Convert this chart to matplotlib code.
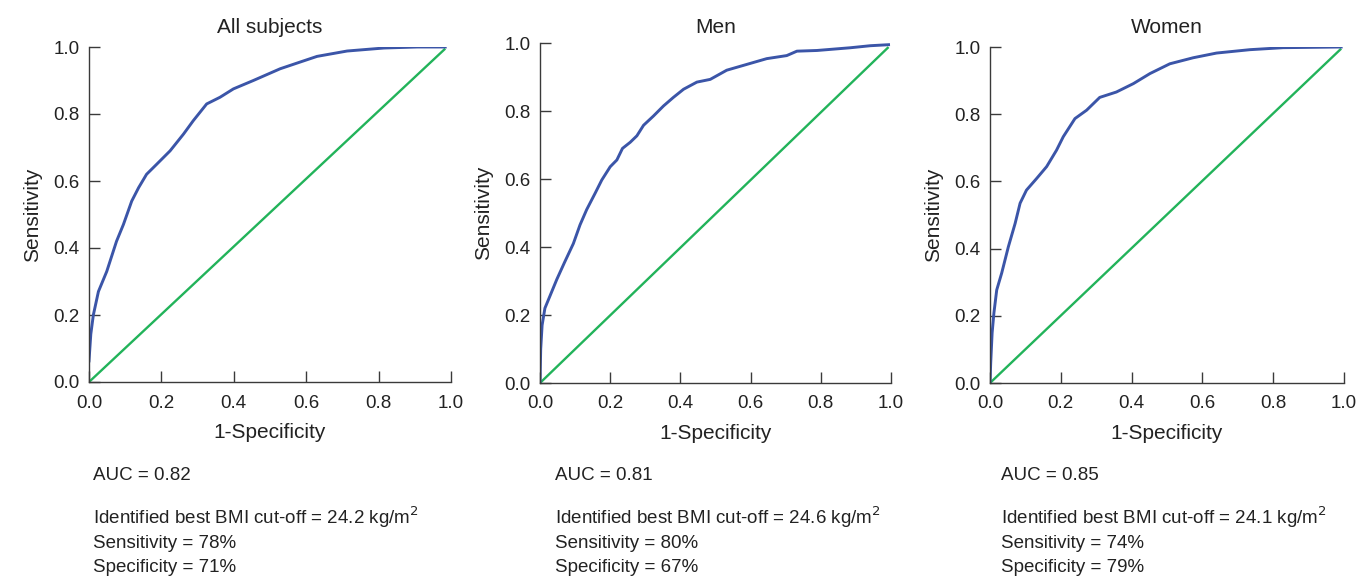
import matplotlib
matplotlib.use("Agg")
import matplotlib.pyplot as plt

plt.rcParams["font.family"] = ["Liberation Sans Narrow", "Liberation Sans", "DejaVu Sans"]

# ROC curves
all_fpr = [0.0, 0.005, 0.012, 0.026, 0.049, 0.076, 0.095, 0.118, 0.137, 0.159, 0.187,
           0.224, 0.261, 0.288, 0.325, 0.362, 0.399, 0.454, 0.528, 0.583, 0.63, 0.713,
           0.815, 0.907, 0.984]
all_tpr = [0.063, 0.143, 0.20, 0.27, 0.33, 0.42, 0.47, 0.54, 0.58, 0.62, 0.65,
           0.69, 0.74, 0.78, 0.83, 0.85, 0.875, 0.90, 0.935, 0.955, 0.972, 0.988,
           0.997, 1.0, 1.0]

men_fpr = [0.0, 0.002, 0.006, 0.014, 0.03, 0.048, 0.07, 0.095, 0.114, 0.133, 0.157,
           0.176, 0.2, 0.219, 0.235, 0.257, 0.276, 0.295, 0.323, 0.352, 0.38, 0.409,
           0.447, 0.485, 0.532, 0.599, 0.646, 0.703, 0.732, 0.789, 0.884, 0.941, 0.993]
men_tpr = [0.0, 0.1, 0.17, 0.22, 0.26, 0.305, 0.355, 0.41, 0.465, 0.51, 0.558,
           0.597, 0.636, 0.656, 0.69, 0.708, 0.727, 0.758, 0.785, 0.815, 0.84, 0.864,
           0.885, 0.893, 0.92, 0.94, 0.954, 0.963, 0.976, 0.978, 0.986, 0.992, 0.995]

women_fpr = [0.0, 0.002, 0.006, 0.011, 0.019, 0.033, 0.052, 0.071, 0.085, 0.103, 0.132,
             0.16, 0.188, 0.207, 0.24, 0.273, 0.31, 0.357, 0.405, 0.452, 0.508, 0.574,
             0.64, 0.734, 0.828, 0.992]
women_tpr = [0.0, 0.06, 0.149, 0.208, 0.277, 0.327, 0.406, 0.475, 0.535, 0.574, 0.609,
             0.644, 0.693, 0.733, 0.787, 0.812, 0.85, 0.866, 0.891, 0.921, 0.95, 0.968,
             0.982, 0.992, 0.998, 1.0]

# reference diagonal end points
all_diag = ([0.0, 0.984], [0.0, 0.995])
men_diag = ([0.0, 0.993], [0.0, 0.988])
women_diag = ([0.0, 0.992], [0.0, 0.995])

titles = ["All subjects", "Men", "Women"]
auc = [0.82, 0.81, 0.85]
cutoff = [24.2, 24.6, 24.1]
sens = [78, 80, 74]
spec = [71, 67, 79]

BLUE = "#3b55a8"
GREEN = "#22b35a"
AXIS = "#3a3a3a"
TEXT = "#222222"

fig = plt.figure(figsize=(13.57, 5.77), dpi=100)

# axes boxes in figure fractions (left, bottom, width, height)
boxes = [
    (89 / 1357, 195 / 577, 362 / 1357, 335 / 577),
    (540 / 1357, 194 / 577, 351 / 1357, 340 / 577),
    (990 / 1357, 194 / 577, 354 / 1357, 336 / 577),
]
curves = [(all_fpr, all_tpr, all_diag), (men_fpr, men_tpr, men_diag),
          (women_fpr, women_tpr, women_diag)]
title_pad = [10, 7, 10]
text_x = [93, 555, 1001]

for i, (box, (fpr, tpr, diag)) in enumerate(zip(boxes, curves)):
    ax = fig.add_axes(box)
    ax.plot(diag[0], diag[1], color=GREEN, linewidth=1.7, solid_capstyle="butt")
    ax.plot(fpr, tpr, color=BLUE, linewidth=2.1)
    ax.set_xlim(0, 1)
    ax.set_ylim(0, 1)
    ax.set_xticks([0, 0.2, 0.4, 0.6, 0.8, 1.0])
    ax.set_yticks([0, 0.2, 0.4, 0.6, 0.8, 1.0])
    ax.set_xticklabels(["0.0", "0.2", "0.4", "0.6", "0.8", "1.0"])
    ax.set_yticklabels(["0.0", "0.2", "0.4", "0.6", "0.8", "1.0"])
    for s in ["top", "right"]:
        ax.spines[s].set_visible(False)
    for s in ["left", "bottom"]:
        ax.spines[s].set_color(AXIS)
        ax.spines[s].set_linewidth(1.0)
    ax.tick_params(axis="both", direction="in", length=8, width=1.0,
                   color=AXIS, labelsize=13.5, labelcolor=TEXT)
    ax.tick_params(axis="x", pad=9)
    ax.tick_params(axis="y", pad=7)
    ax.set_xlabel("1-Specificity", fontsize=15, color=TEXT, labelpad=8)
    ax.set_ylabel("Sensitivity", fontsize=15, color=TEXT, labelpad=8)
    ax.set_title(titles[i], fontsize=15, color=TEXT, pad=title_pad[i])
    ax.patch.set_visible(False)

    tx = text_x[i] / 1357
    fig.text(tx, 1 - 476 / 577, f"AUC = {auc[i]:.2f}", fontsize=13.5,
             color=TEXT, va="center")
    fig.text(tx, 1 - 517 / 577,
             f"Identified best BMI cut-off = {cutoff[i]} kg/m$^2$",
             fontsize=13.5, color=TEXT, va="center")
    fig.text(tx, 1 - 543 / 577, f"Sensitivity = {sens[i]}%", fontsize=13.5,
             color=TEXT, va="center")
    fig.text(tx, 1 - 568 / 577, f"Specificity = {spec[i]}%", fontsize=13.5,
             color=TEXT, va="center")

fig.savefig("out.png", dpi=100)
